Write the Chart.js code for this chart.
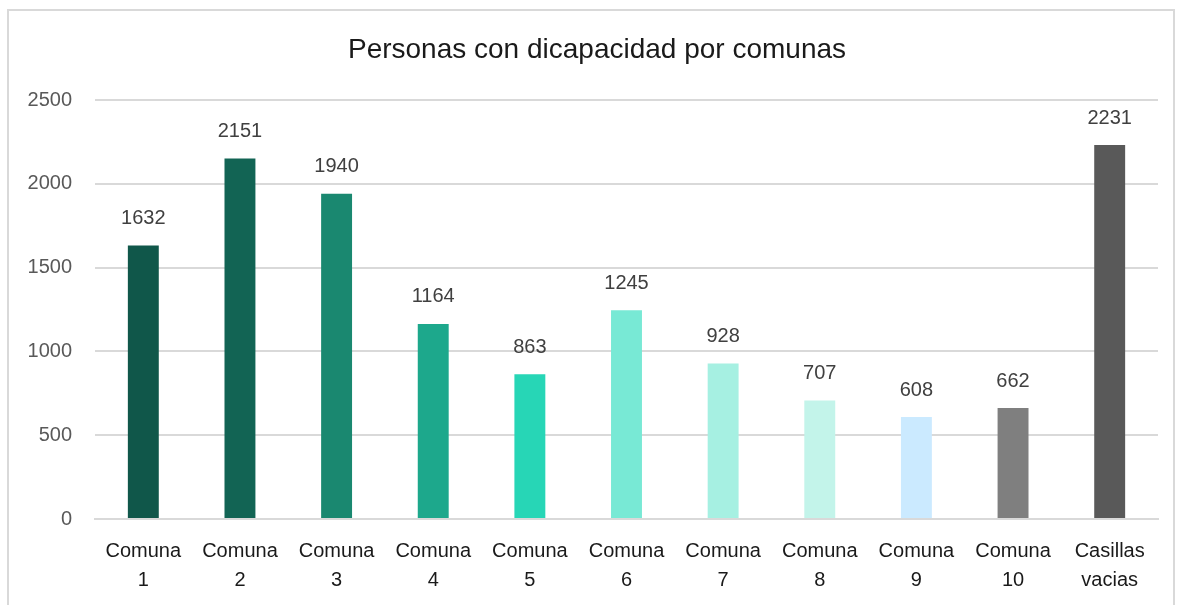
<!DOCTYPE html>
<html lang="es">
<head>
    <meta charset="UTF-8">
    <title>Personas con dicapacidad por comunas</title>
    <script src="https://cdn.jsdelivr.net/npm/chart.js"></script>
    <style>
        body { margin: 0; background: #fff; width: 1181px; height: 605px; overflow: hidden; position: relative; }
        .frame { position: absolute; left: 7px; top: 9px; width: 1168px; height: 610px; border: 2px solid #d9d9d9; box-sizing: border-box; }
        #wrap { position: absolute; left: 0; top: 0; width: 1181px; height: 605px; }
    </style>
</head>
<body>
    <div class="frame"></div>
    <div id="wrap"><canvas id="chart"></canvas></div>

    <script>
        // datos
        const titulo = 'Personas con dicapacidad por comunas';
        const categorias = [['Comuna', '1'], ['Comuna', '2'], ['Comuna', '3'], ['Comuna', '4'], ['Comuna', '5'],
            ['Comuna', '6'], ['Comuna', '7'], ['Comuna', '8'], ['Comuna', '9'], ['Comuna', '10'], ['Casillas', 'vacias']];
        const personas = [1632, 2151, 1940, 1164, 863, 1245, 928, 707, 608, 662, 2231];
        const colores = ['#10574a', '#126454', '#1a8870', '#1da88c', '#27d6b6', '#78e9d5',
            '#a6f0e2', '#c3f4ea', '#cbeaff', '#7f7f7f', '#595959'];
        const yTicks = [0, 500, 1000, 1500, 2000, 2500];

        const fuente = "'Liberation Sans', Arial, sans-serif";

        // título centrado sobre el marco, no sobre el área del gráfico
        const tituloPlugin = {
            id: 'tituloPlugin',
            afterDraw(chart) {
                const ctx = chart.ctx;
                ctx.save();
                ctx.font = '28px ' + fuente;
                ctx.fillStyle = '#1a1a1a';
                ctx.textAlign = 'center';
                ctx.textBaseline = 'middle';
                ctx.fillText(titulo, 597, 50);
                ctx.restore();
            }
        };

        // etiquetas encima de cada barra
        const etiquetas = {
            id: 'etiquetas',
            afterDatasetsDraw(chart) {
                const ctx = chart.ctx;
                const meta = chart.getDatasetMeta(0);
                ctx.save();
                ctx.font = '20px ' + fuente;
                ctx.fillStyle = '#404040';
                ctx.textAlign = 'center';
                ctx.textBaseline = 'middle';
                meta.data.forEach((bar, i) => {
                    ctx.fillText(String(personas[i]), bar.x, bar.y - 27);
                });
                ctx.restore();
            }
        };

        new Chart(document.getElementById('chart'), {
            type: 'bar',
            data: {
                labels: categorias,
                datasets: [{
                    data: personas,
                    backgroundColor: colores,
                    categoryPercentage: 1,
                    barPercentage: 0.32
                }]
            },
            options: {
                responsive: true,
                maintainAspectRatio: false,
                animation: false,
                layout: { padding: { left: 0, right: 23, top: 100, bottom: 0 } },
                plugins: {
                    legend: { display: false },
                    tooltip: { enabled: false },
                    title: { display: false }
                },
                scales: {
                    x: {
                        grid: { display: false, drawTicks: false },
                        border: { color: '#d9d9d9', width: 2 },
                        ticks: {
                            color: '#1a1a1a',
                            font: { family: fuente, size: 20, lineHeight: 1.45 },
                            padding: 18,
                            maxRotation: 0,
                            autoSkip: false
                        },
                        afterFit: s => { s.height = 86; }
                    },
                    y: {
                        min: 0,
                        max: 2500,
                        afterBuildTicks: s => { s.ticks = yTicks.map(v => ({ value: v })); },
                        grid: { color: '#d9d9d9', lineWidth: 2, drawTicks: false },
                        border: { display: false },
                        ticks: {
                            color: '#595959',
                            font: { family: fuente, size: 20 },
                            padding: 23,
                            callback: v => String(v)
                        },
                        afterFit: s => { s.width = 95; }
                    }
                }
            },
            plugins: [etiquetas, tituloPlugin]
        });
    </script>
</body>
</html>
